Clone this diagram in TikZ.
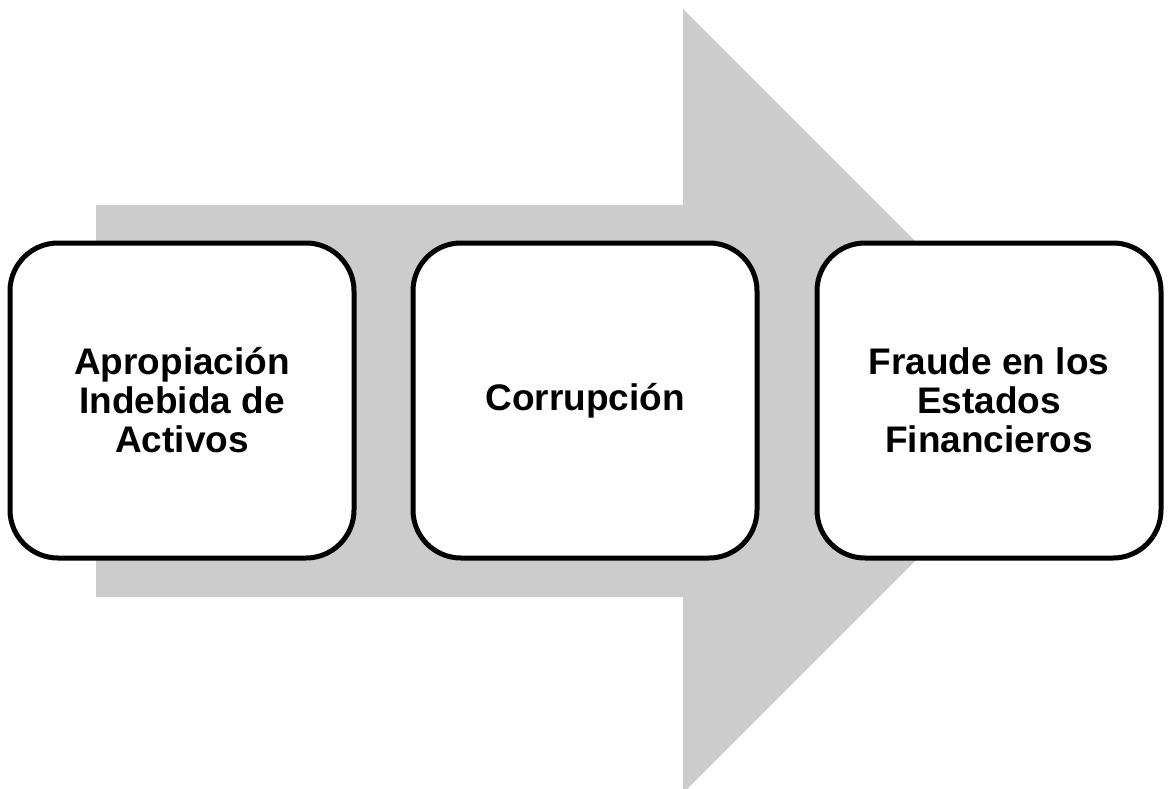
\documentclass[tikz,border=0pt]{standalone}
\usepackage{fontspec}
\setmainfont{Liberation Sans}
\begin{document}
\begin{tikzpicture}[x=1pt,y=-1pt,
  stagebox/.style={draw=black,line width=5pt,fill=white,rounded corners=48pt,
    minimum width=344pt,minimum height=315pt,inner sep=0pt,align=center,
    font=\fontsize{37}{39}\selectfont\bfseries}]
\useasboundingbox (0,0) rectangle (1168,789);
% large grey block arrow behind the stages
\begin{scope}
\clip (0,0) rectangle (1168,789);
\fill[fill={rgb,255:red,204;green,204;blue,204}]
  (96,205) -- (683,205) -- (683,9) -- (1075,401) -- (683,793) -- (683,597) -- (96,597) -- cycle;
\end{scope}
% the three stages
\node[stagebox] (s1) at (182,400.5) {Apropiación\\Indebida de\\Activos};
\node[stagebox] (s2) at (585,400.5) {Corrupción};
\node[stagebox] (s3) at (989,400.5) {Fraude en los\\Estados\\Financieros};
\end{tikzpicture}
\end{document}
